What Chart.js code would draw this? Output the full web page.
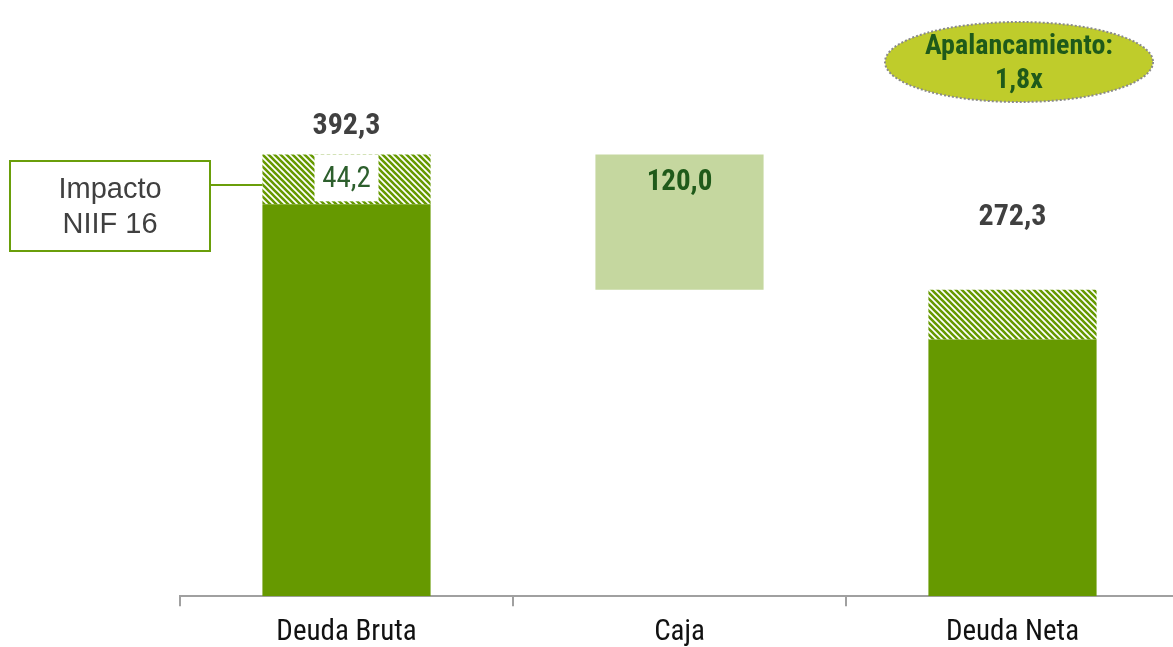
<!DOCTYPE html>
<html>
<head>
<meta charset="utf-8">
<script src="https://cdn.jsdelivr.net/npm/chart.js@4.4.1/dist/chart.umd.min.js"></script>
<style>
  html, body { margin: 0; padding: 0; background: #fff; overflow: hidden; }
  canvas { display: block; }
</style>
</head>
<body>
<canvas id="deuda" width="1185" height="659"></canvas>
<script>
// ── DATA ────────────────────────────────────────────────────────────
const categories = ['Deuda Bruta', 'Caja', 'Deuda Neta'];
const totals = [392.3, 120.0, 272.3];
const niifImpact = [44.2, 0, 44.2];
const totalLabels = ['392,3', '120,0', '272,3'];
const niifLabel = '44,2';
const calloutText = ['Impacto', 'NIIF 16'];
const leverageText = ['Apalancamiento:', '1,8x'];

const NARROW = "'Liberation Sans Narrow', 'Arial Narrow', 'Roboto Condensed', sans-serif";
const REGULAR = "'Liberation Sans', Arial, sans-serif";
const GREEN = '#669900';
const DARK_GREEN = '#1f5a1a';

// floating ranges built from the values above
const gross = totals[0];
const cash = totals[1];
const net = totals[2];
const solidData = [[0, gross - niifImpact[0]], null, [0, net - niifImpact[2]]];
const hatchData = [[gross - niifImpact[0], gross], null, [net - niifImpact[2], net]];
const cashData = [null, [gross - cash, gross], null];

// diagonal hatch for the NIIF 16 slice
function hatchPattern() {
  const t = document.createElement('canvas');
  t.width = 6; t.height = 6;
  const c = t.getContext('2d');
  c.fillStyle = '#fff';
  c.fillRect(0, 0, 6, 6);
  c.strokeStyle = GREEN;
  c.lineWidth = 2.6;
  c.beginPath();
  c.moveTo(-3, -3); c.lineTo(9, 9);
  c.moveTo(-9, -3); c.lineTo(3, 9);
  c.moveTo(3, -3); c.lineTo(15, 9);
  c.stroke();
  return c.createPattern(t, 'repeat');
}

// ── ANNOTATIONS ─────────────────────────────────────────────────────
const annotations = {
  id: 'annotations',
  afterDatasetsDraw(chart) {
    const ctx = chart.ctx;
    const hatch = chart.getDatasetMeta(1).data;
    const caja = chart.getDatasetMeta(2).data;
    ctx.save();
    ctx.textAlign = 'center';
    ctx.textBaseline = 'middle';

    // totals
    ctx.font = `bold 30px ${NARROW}`;
    ctx.fillStyle = '#404040';
    ctx.fillText(totalLabels[0], hatch[0].x, hatch[0].y - 28);
    ctx.fillText(totalLabels[2], hatch[2].x, hatch[2].y - 72);
    ctx.font = `bold 29px ${NARROW}`;
    ctx.fillStyle = DARK_GREEN;
    ctx.fillText(totalLabels[1], caja[1].x, caja[1].y + 28);

    // NIIF 16 value box inside the hatched slice
    const h0 = hatch[0];
    ctx.fillStyle = '#fff';
    ctx.fillRect(h0.x - 32, h0.y, 64, h0.base - h0.y - 3);
    ctx.font = `29px ${NARROW}`;
    ctx.fillStyle = '#2d5f2d';
    ctx.fillText(niifLabel, h0.x, (h0.y + h0.base) / 2);

    // callout box
    const left = h0.x - h0.width / 2;
    ctx.strokeStyle = '#6a9e0a';
    ctx.lineWidth = 2;
    ctx.strokeRect(10, 161, 200, 90);
    ctx.beginPath();
    ctx.moveTo(211, 185);
    ctx.lineTo(left, 185);
    ctx.stroke();
    ctx.font = `29px ${REGULAR}`;
    ctx.fillStyle = '#404040';
    ctx.fillText(calloutText[0], 110, 190);
    ctx.fillText(calloutText[1], 110, 225);

    // leverage ellipse
    ctx.beginPath();
    ctx.ellipse(1019, 62, 134, 40, 0, 0, Math.PI * 2);
    ctx.fillStyle = '#bfcc2b';
    ctx.fill();
    ctx.setLineDash([2, 2]);
    ctx.strokeStyle = '#8a8a8a';
    ctx.lineWidth = 2;
    ctx.stroke();
    ctx.setLineDash([]);
    ctx.font = `bold 28px ${NARROW}`;
    ctx.fillStyle = DARK_GREEN;
    ctx.fillText(leverageText[0], 1019, 47);
    ctx.fillText(leverageText[1], 1019, 81);
    ctx.restore();
  }
};

// ── BAR CHART ───────────────────────────────────────────────────────
new Chart(document.getElementById('deuda'), {
  type: 'bar',
  data: {
    labels: categories,
    datasets: [
      { label: 'Deuda', data: solidData, backgroundColor: GREEN },
      { label: 'NIIF 16', data: hatchData, backgroundColor: hatchPattern() },
      { label: 'Caja', data: cashData, backgroundColor: '#c5d79f' }
    ]
  },
  options: {
    responsive: false,
    animation: false,
    layout: { padding: { left: 180, right: 6, top: 0, bottom: 0 } },
    datasets: { bar: { barPercentage: 1, categoryPercentage: 0.505, borderWidth: 0 } },
    scales: {
      x: {
        stacked: true,
        grid: { drawOnChartArea: false, drawTicks: true, tickLength: 10, color: '#a0a0a0', lineWidth: 2 },
        border: { color: '#a0a0a0', width: 2 },
        ticks: { color: '#111', padding: 9, font: { family: NARROW, size: 29 } }
      },
      y: {
        display: false,
        min: 0,
        max: 529.6
      }
    },
    plugins: {
      legend: { display: false },
      tooltip: { enabled: false }
    }
  },
  plugins: [annotations]
});
</script>
</body>
</html>
